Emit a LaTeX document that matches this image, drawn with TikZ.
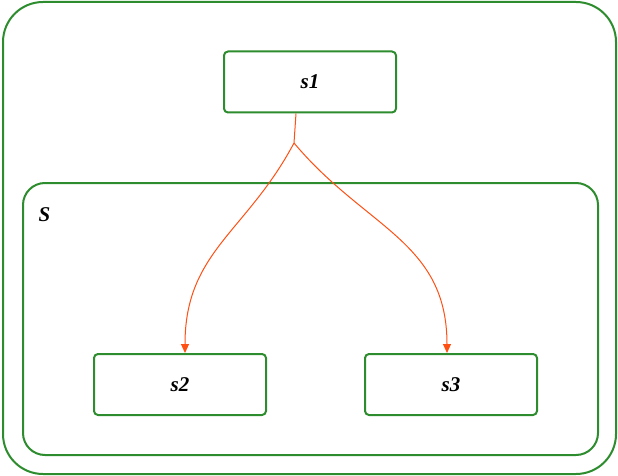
\documentclass[tikz,border=0pt]{standalone}
\usepackage{fontspec}
\setmainfont{Liberation Serif}
\usetikzlibrary{arrows.meta}
\definecolor{stategreen}{RGB}{45,140,45}
\definecolor{transred}{RGB}{255,80,20}
\begin{document}
\begin{tikzpicture}[x=1pt,y=-1pt]
    \useasboundingbox (0,0) rectangle (618,476);
    %outer frame and the composite state S
    \draw [stategreen, line width=2pt, rounded corners=40pt] (3,2) rectangle (616,474);
    \draw [stategreen, line width=2pt, rounded corners=22pt] (23,183) rectangle (598,455);
    \node [anchor=base west, font=\fontsize{21}{24}\selectfont\bfseries\itshape] (S) at (35,221) {S};

    \begin{scope}[every node/.style={draw=stategreen, line width=2pt, rounded corners=4pt,
                minimum width=172pt, minimum height=61pt, inner sep=0pt,
                font=\fontsize{21}{24}\selectfont\bfseries\itshape}]
        \node (s1) at (310,82) {s1};
        \node (s2) at (180,384.5) {s2};
        \node (s3) at (451,384.5) {s3};
    \end{scope}

    \coordinate (j) at (294,143);

    \begin{scope}[>={Triangle[width=8pt,length=9pt]},
                every edge/.style={draw=transred, line width=1pt}]
        \path (s1.south -| 296,0) edge (j);
        \path [->] (j) edge[out=-118, in=90, looseness=1.1] (s2.north -| 185,0);
        \path [->] (j) edge[out=-50, in=90, looseness=1.1] (s3.north -| 447,0);
    \end{scope}
\end{tikzpicture}
\end{document}
